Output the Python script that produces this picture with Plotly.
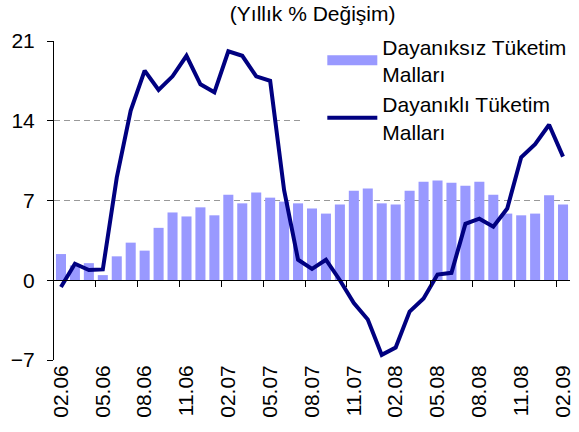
import plotly.graph_objects as go

months = ["02.06", "03.06", "04.06", "05.06", "06.06", "07.06", "08.06", "09.06", "10.06",
          "11.06", "12.06", "01.07", "02.07", "03.07", "04.07", "05.07", "06.07", "07.07",
          "08.07", "09.07", "10.07", "11.07", "12.07", "01.08", "02.08", "03.08", "04.08",
          "05.08", "06.08", "07.08", "08.08", "09.08", "10.08", "11.08", "12.08", "01.09",
          "02.09"]

nondurable = [2.3, 1.3, 1.5, 0.45, 2.1, 3.3, 2.6, 4.6, 5.95, 5.6, 6.4, 5.7, 7.5, 6.75,
              7.7, 7.25, 6.9, 6.75, 6.3, 5.85, 6.65, 7.85, 8.05, 6.75, 6.65, 7.85, 8.65,
              8.75, 8.55, 8.3, 8.65, 7.5, 5.85, 5.7, 5.85, 7.45, 6.65]

durable = [-0.6, 1.45, 0.9, 0.95, 9.0, 14.9, 18.4, 16.7, 17.9, 19.7, 17.2, 16.5, 20.1,
           19.7, 17.9, 17.5, 7.9, 1.8, 1.0, 1.8, 0.0, -2.0, -3.45, -6.55, -5.9, -2.75,
           -1.6, 0.5, 0.65, 4.95, 5.4, 4.7, 6.3, 10.8, 11.95, 13.65, 10.85]

tick_labels = ["02.06", "05.06", "08.06", "11.06", "02.07", "05.07", "08.07", "11.07",
               "02.08", "05.08", "08.08", "11.08", "02.09"]
boundary_ticks = [2.5, 5.5, 8.5, 11.5, 14.5, 17.5, 20.5, 23.5, 26.5, 29.5, 32.5, 35.5]
y_ticks = [-7, 0, 7, 14, 21]

BAR_NAME = "Dayanıksız Tüketim<br>Malları"
LINE_NAME = "Dayanıklı Tüketim<br>Malları"
BAR_COLOR = "#9999FF"
LINE_COLOR = "#000080"
FONT = "Liberation Sans, Arial, sans-serif"

fig = go.Figure()
fig.add_trace(go.Bar(
    x=months, y=nondurable, name=BAR_NAME, showlegend=False,
    marker=dict(color=BAR_COLOR, line=dict(width=0)),
))
fig.add_trace(go.Scatter(
    x=months, y=durable, name=LINE_NAME, mode="lines", showlegend=False,
    line=dict(color=LINE_COLOR, width=4),
))
# legend-only swatches (no data drawn)
fig.add_trace(go.Scatter(x=[None], y=[None], mode="lines", name=BAR_NAME,
                         line=dict(color=BAR_COLOR, width=13), hoverinfo="skip"))
fig.add_trace(go.Scatter(x=[None], y=[None], mode="lines", name=LINE_NAME,
                         line=dict(color=LINE_COLOR, width=4), hoverinfo="skip"))
fig.add_trace(go.Scatter(x=[None], y=[None], xaxis="x2", showlegend=False,
                         hoverinfo="skip"))

# white masks: the legend box hides the gridlines behind it
legend_masks = [
    dict(type="rect", xref="paper", yref="y", x0=0.4826, x1=1.0, y0=y0, y1=y1,
         fillcolor="white", line=dict(width=0), layer="above")
    for (y0, y1) in [(20.85, 21.3), (13.88, 14.12)]
]

fig.update_layout(
    width=579, height=432,
    margin=dict(l=54, r=9, t=41, b=72, autoexpand=False),
    paper_bgcolor="white", plot_bgcolor="white",
    font=dict(family=FONT, size=21, color="black"),
    bargap=0.28,
    title=dict(text="(Yıllık % Değişim)", x=0.54, xanchor="center", y=0.968,
               yanchor="middle", font=dict(size=21)),
    xaxis=dict(type="category", range=[-0.5, 36.5], tickvals=tick_labels,
               ticktext=tick_labels, tickangle=-90, showgrid=False, showline=False,
               ticks="", zeroline=False, tickfont=dict(size=21), automargin=False),
    xaxis2=dict(overlaying="x", anchor="free", position=0.25, range=[-0.5, 36.5],
                showline=True, linecolor="black", linewidth=1, ticks="outside",
                ticklen=6, tickcolor="black", tickvals=boundary_ticks,
                showticklabels=False, showgrid=False, zeroline=False, side="bottom"),
    yaxis=dict(range=[-7, 21], tickvals=y_ticks, showgrid=True, gridcolor="#999999",
               griddash="6px,4px", gridwidth=1, showline=True, linecolor="black",
               linewidth=1, ticks="outside", ticklen=6, tickcolor="black",
               zeroline=False, tickfont=dict(size=21), automargin=False,
               ticklabelstandoff=8),
    legend=dict(x=0.52, xanchor="left", y=1.046, yanchor="top",
                bgcolor="rgba(0,0,0,0)", itemwidth=50, font=dict(size=21),
                tracegroupgap=0),
    shapes=legend_masks,
    showlegend=True,
)

fig.write_html("out.html", config={"displayModeBar": False},
               post_script="document.body.style.margin='0px';")
